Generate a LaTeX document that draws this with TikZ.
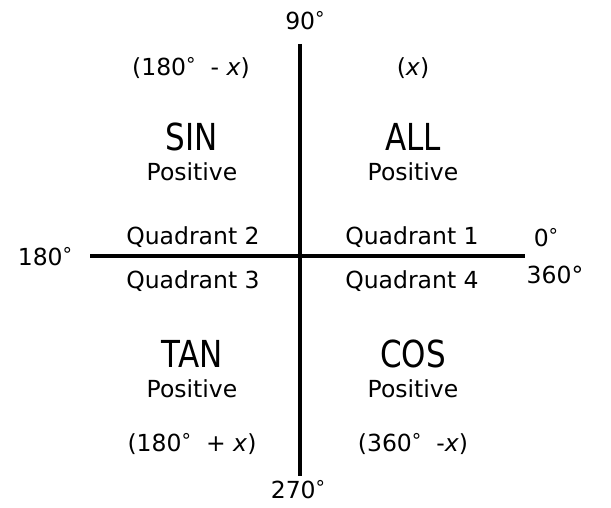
\documentclass[tikz,border=0pt]{standalone}
\usepackage{fontspec}
\setmainfont{DejaVu Sans}
\newcommand{\dg}{\raisebox{0.3ex}{\fontsize{19}{19}\selectfont °}}
\begin{document}
\begin{tikzpicture}[x=1pt,y=-1pt,
  lbl/.style={inner sep=0pt,font=\fontsize{23.5}{27}\selectfont},
  big/.style={inner sep=0pt,font=\fontsize{31}{36}\selectfont,yscale=1.2},
  axis/.style={line width=4.5pt}]
\useasboundingbox (0,0) rectangle (611,508);
\coordinate (top) at (300,44);
\coordinate (bot) at (300,476);
\coordinate (left) at (90,256);
\coordinate (right) at (525,256);
\draw[axis] (top) -- (bot);
\draw[axis] (left) -- (right);
\node[lbl] (n90) at (305,21) {90\dg};
\node[lbl] (n270) at (298,490) {270\dg};
\node[lbl] (n180) at (45,257) {180\dg};
\node[lbl] (n0) at (546,238) {0\dg};
\node[lbl] (n360) at (555,275) {360°};
\node[lbl] (e2) at (191,68) {(180\dg\ \ - \textit{x})};
\node[lbl] (e1) at (413,68) {(\textit{x})};
\node[big] (sin) at (192,137) {SIN};
\node[big] (all) at (413,137) {ALL};
\node[lbl] (p2) at (192,172) {Positive};
\node[lbl] (p1) at (413,172) {Positive};
\node[lbl] (q2) at (193,237) {Quadrant 2};
\node[lbl] (q1) at (412,237) {Quadrant 1};
\node[lbl] (q3) at (193,281) {Quadrant 3};
\node[lbl] (q4) at (412,281) {Quadrant 4};
\node[big] (tan) at (192,354) {TAN};
\node[big] (cos) at (413,354) {COS};
\node[lbl] (p3) at (192,389) {Positive};
\node[lbl] (p4) at (413,389) {Positive};
\node[lbl] (e3) at (192,444) {(180\dg\ \ + \textit{x})};
\node[lbl] (e4) at (413,444) {(360\dg\ \ -\textit{x})};
\end{tikzpicture}
\end{document}
